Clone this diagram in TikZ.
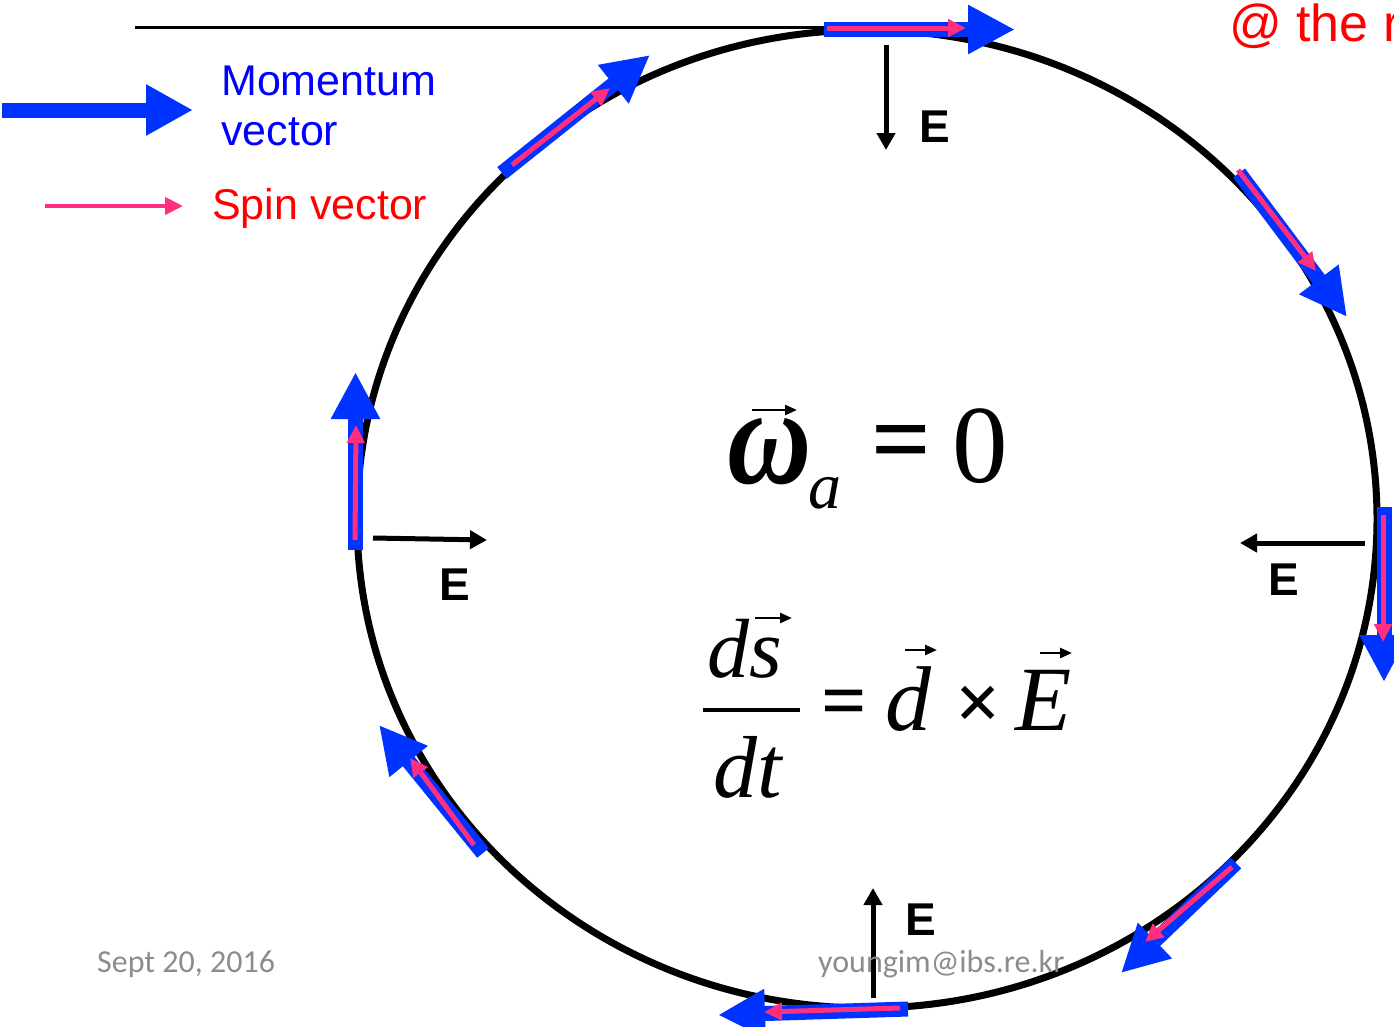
\documentclass[tikz,border=0pt]{standalone}
\usepackage{fontspec}
\setmainfont{Liberation Sans}
\newfontfamily\tms{Liberation Serif}
\newfontfamily\carl{Carlito}
\usetikzlibrary{arrows.meta}
\definecolor{momblue}{HTML}{0033FF}
\definecolor{spinpink}{HTML}{FF2E7E}
\definecolor{txtblue}{HTML}{0000FF}
\definecolor{txtred}{HTML}{FF0000}
\definecolor{footgray}{HTML}{8C8C8C}
\begin{document}
\begin{tikzpicture}[x=1pt,y=-1pt,
  mom/.style={draw=momblue, line width=15pt, -{Triangle[length=47pt,width=46pt]}},
  spin/.style={draw=spinpink, line width=5pt, -{Triangle[length=18pt,width=17pt]}},
  efield/.style={draw=black, line width=5pt, -{Triangle[length=17pt,width=18pt]}},
  vecar/.style={draw=black, line width=2.5pt, -{Triangle[length=12pt,width=10pt]}},
  elabel/.style={font=\bfseries\fontsize{46}{46}\selectfont, inner sep=0pt},
  lgd/.style={inner sep=0pt, anchor=base west, font=\fontsize{43}{43}\selectfont},
  foot/.style={inner sep=0pt, anchor=base west, text=footgray, font=\carl\fontsize{32}{32}\selectfont},
  mth/.style={inner sep=0pt}
]
\useasboundingbox (0,0) rectangle (1394,1026);

% ring
\coordinate (ctr) at (867,519);
\draw[line width=7pt] (ctr) ellipse [x radius=510, y radius=489];
% tangent line
\coordinate (tl0) at (135,27);
\coordinate (tl1) at (826,27);
\draw[line width=3pt] (tl0) -- (tl1);

% momentum arrows (blue)
\coordinate (m1a) at (824,29.5);   \coordinate (m1b) at (1015,29.5);
\coordinate (m2a) at (502,173);    \coordinate (m2b) at (650,55);
\coordinate (m3a) at (355.5,550);  \coordinate (m3b) at (355.5,372);
\coordinate (m4a) at (1384,507);   \coordinate (m4b) at (1384,682);
\coordinate (m5a) at (908,1009);   \coordinate (m5b) at (718,1015);
\coordinate (m6a) at (1236,863);   \coordinate (m6b) at (1121,973);
\coordinate (m7a) at (483,853);    \coordinate (m7b) at (379,725);
\coordinate (m8a) at (1239,173);   \coordinate (m8b) at (1347,317);
\foreach \i in {1,...,8} \draw[mom] (m\i a) -- (m\i b);

% spin arrows (pink)
\coordinate (s1a) at (827,28);     \coordinate (s1b) at (966,28);
\coordinate (s2a) at (512,165);    \coordinate (s2b) at (610,88);
\coordinate (s3a) at (355,540);    \coordinate (s3b) at (356,425);
\coordinate (s4a) at (1383,515);   \coordinate (s4b) at (1383,642);
\coordinate (s5a) at (900,1008);   \coordinate (s5b) at (764,1012);
\coordinate (s6a) at (1232,867);   \coordinate (s6b) at (1145,942);
\coordinate (s7a) at (474,845);    \coordinate (s7b) at (410,758);
\coordinate (s8a) at (1238,170);   \coordinate (s8b) at (1316,271);
\foreach \i in {1,...,8} \draw[spin] (s\i a) -- (s\i b);

% E field arrows
\coordinate (e1a) at (886,45);   \coordinate (e1b) at (886,150);
\coordinate (e2a) at (373,538);  \coordinate (e2b) at (487,540);
\coordinate (e3a) at (1365,543); \coordinate (e3b) at (1240,543);
\coordinate (e4a) at (873,998);  \coordinate (e4b) at (873,888);
\foreach \i in {1,...,4} \draw[efield] (e\i a) -- (e\i b);
\node[elabel] (E1) at (935,127) {E};
\node[elabel] (E2) at (455,585) {E};
\node[elabel] (E3) at (1284,580) {E};
\node[elabel] (E4) at (921,920) {E};

% legend
\coordinate (lm0) at (2,110);  \coordinate (lm1) at (193,110);
\draw[draw=momblue, line width=15pt, -{Triangle[length=47pt,width=48pt]}] (lm0) -- (lm1);
\coordinate (ls0) at (45,206); \coordinate (ls1) at (183,206);
\draw[draw=spinpink, line width=4pt, -{Triangle[length=18pt,width=17pt]}] (ls0) -- (ls1);
\node[lgd, text=txtblue] (mom1) at (221,95) {Momentum};
\node[lgd, text=txtblue] (mom2) at (221,145) {vector};
\node[lgd, text=txtred] (spn) at (212,219) {Spin vector};

% top-right heading (clipped by the page edge)
\node[inner sep=0pt, anchor=base west, text=txtred, font=\fontsize{52}{52}\selectfont] (head) at (1229,41) {@ the r};

% equation 1
\node[mth, anchor=base west, font=\tms\bfseries\itshape\fontsize{111}{111}\selectfont] (om) at (727,483) {\scalebox{1.05}[1.25]{ω}};
\coordinate (oa0) at (752,410); \coordinate (oa1) at (797,410);
\draw[vecar] (oa0) -- (oa1);
\node[mth, anchor=base west, font=\tms\itshape\fontsize{66}{66}\selectfont] (sa) at (808,508) {a};
\node[mth, font=\tms\bfseries\fontsize{105}{105}\selectfont] (eqa) at (901,450) {=};
\node[mth, anchor=base west, font=\tms\fontsize{111}{111}\selectfont] (zero) at (952,482) {0};

% equation 2
\node[mth, anchor=base west, font=\tms\itshape\fontsize{84}{84}\selectfont] (num) at (707,677) {ds};
\coordinate (sv0) at (755,618); \coordinate (sv1) at (792,618);
\draw[vecar] (sv0) -- (sv1);
\coordinate (fb0) at (703,710); \coordinate (fb1) at (800,710);
\draw[line width=3.5pt] (fb0) -- (fb1);
\node[mth, anchor=base west, font=\tms\itshape\fontsize{88}{88}\selectfont] (den) at (713,797) {dt};
\node[mth, font=\tms\bfseries\fontsize{80}{80}\selectfont] (eqb) at (844,709) {=};
\node[mth, anchor=base west, font=\tms\itshape\fontsize{92}{92}\selectfont] (dd) at (885,730) {d};
\coordinate (dv0) at (905,650); \coordinate (dv1) at (937,650);
\draw[vecar] (dv0) -- (dv1);
\node[mth, font=\tms\bfseries\fontsize{80}{80}\selectfont] (cross) at (978,708) {×};
\node[mth, anchor=base west, font=\tms\itshape\fontsize{92}{92}\selectfont] (EE) at (1015,730) {E};
\coordinate (ev0) at (1040,653); \coordinate (ev1) at (1072,653);
\draw[vecar] (ev0) -- (ev1);

% footer
\node[foot] (date) at (97,972) {Sept 20, 2016};
\node[foot] (mail) at (818,972) {youngim@ibs.re.kr};
\end{tikzpicture}
\end{document}
